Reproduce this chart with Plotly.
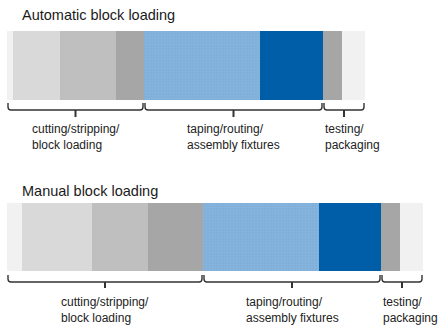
import plotly.graph_objects as go

# Process time segments per layout (same units on both bars)
bar_titles = ["Automatic block loading", "Manual block loading"]
auto_durations = [6, 47, 56, 28, 116, 63, 19, 23]
manual_durations = [15, 70, 56, 55, 116, 62, 19, 23]
segment_group = [0, 0, 0, 0, 1, 1, 2, 2]
group_labels = [
    "cutting/stripping/<br>block loading",
    "taping/routing/<br>assembly fixtures",
    "testing/<br>packaging",
]

# Styling
segment_colors = ["#f1f1f1", "#d9d9d9", "#bfbfbf", "#a6a6a6",
                  "#7eaed9", "#005ea8", "#a6a6a6", "#f1f1f1"]
patterned = [False, False, False, False, True, False, False, False]
FONT = "Liberation Sans, Arial, sans-serif"
W, H = 438, 325
ML = 7
X_RANGE = [0, W - ML]


def py(px):
    """Screen pixel row -> paper y fraction."""
    return 1 - px / H


def pxx(px):
    """Screen pixel column -> paper x fraction."""
    return (px - ML) / (W - ML)


# Vertical placement (pixel rows) for each bar block
bar_rows = [(31, 100), (203, 271)]
bracket_rows = [(103, 110, 117), (275, 282, 288)]
title_rows = [15, 191]
label_rows = [137, 310]

fig = go.Figure()
axes = [("x", "y"), ("x2", "y2")]
for b, durations in enumerate([auto_durations, manual_durations]):
    xa, ya = axes[b]
    start = 0
    for i, d in enumerate(durations):
        marker = dict(color=segment_colors[i], line=dict(width=0))
        if patterned[i]:
            marker["pattern"] = dict(shape=".", fillmode="overlay",
                                     fgcolor="#92bbe0", size=3, solidity=0.45)
        fig.add_trace(go.Bar(
            x=[d], base=[start], y=[0], orientation="h", width=1,
            marker=marker, xaxis=xa, yaxis=ya, showlegend=False,
            hoverinfo="skip",
        ))
        start += d

fig.update_layout(
    width=W, height=H,
    margin=dict(l=ML, r=0, t=0, b=0),
    paper_bgcolor="white", plot_bgcolor="white",
    barmode="overlay",
    font=dict(family=FONT, color="#222222"),
    xaxis=dict(range=X_RANGE, visible=False, domain=[0, 1], anchor="y"),
    xaxis2=dict(range=X_RANGE, visible=False, domain=[0, 1], anchor="y2",
                matches="x"),
    yaxis=dict(range=[-0.5, 0.5], visible=False,
               domain=[py(bar_rows[0][1]), py(bar_rows[0][0])], anchor="x"),
    yaxis2=dict(range=[-0.5, 0.5], visible=False,
                domain=[py(bar_rows[1][1]), py(bar_rows[1][0])], anchor="x2"),
)

shapes = []
annotations = []
for b, durations in enumerate([auto_durations, manual_durations]):
    xa = axes[b][0]
    yt, ym, yk = bracket_rows[b]
    # group extents from the cumulative segment values
    bounds = {}
    start = 0
    for i, d in enumerate(durations):
        g = segment_group[i]
        lo, hi = bounds.get(g, (start, start + d))
        bounds[g] = (min(lo, start), max(hi, start + d))
        start += d
    for g, (lo, hi) in sorted(bounds.items()):
        x0, x1 = lo + 1, hi - 1
        xc = (lo + hi) / 2
        r = 3
        brace = (
            f"M {x0},{py(yt)} L {x0},{py(ym - r)} "
            f"Q {x0},{py(ym)} {x0 + r},{py(ym)} "
            f"L {x1 - r},{py(ym)} "
            f"Q {x1},{py(ym)} {x1},{py(ym - r)} L {x1},{py(yt)}"
        )
        shapes.append(dict(type="path", path=brace, xref=xa, yref="paper",
                           line=dict(color="#333333", width=1.4)))
        tick = f"M {xc},{py(ym)} L {xc},{py(yk)}"
        shapes.append(dict(type="path", path=tick, xref=xa, yref="paper",
                           line=dict(color="#333333", width=2)))
        if g == 2:
            annotations.append(dict(
                x=lo, xref=xa, xanchor="left", y=py(label_rows[b]),
                yref="paper", yanchor="middle", text=group_labels[g],
                align="left", showarrow=False,
                font=dict(size=12, family=FONT, color="#222222")))
        else:
            annotations.append(dict(
                x=xc, xref=xa, xanchor="center", y=py(label_rows[b]),
                yref="paper", yanchor="middle", text=group_labels[g],
                align="left", showarrow=False,
                font=dict(size=12, family=FONT, color="#222222")))
    annotations.append(dict(
        x=pxx(20), xref="paper", xanchor="left", y=py(title_rows[b]),
        yref="paper", yanchor="middle", text=bar_titles[b],
        showarrow=False, font=dict(size=14.5, family=FONT, color="#1a1a1a")))

fig.update_layout(shapes=shapes, annotations=annotations)
fig.write_html("out.html")
